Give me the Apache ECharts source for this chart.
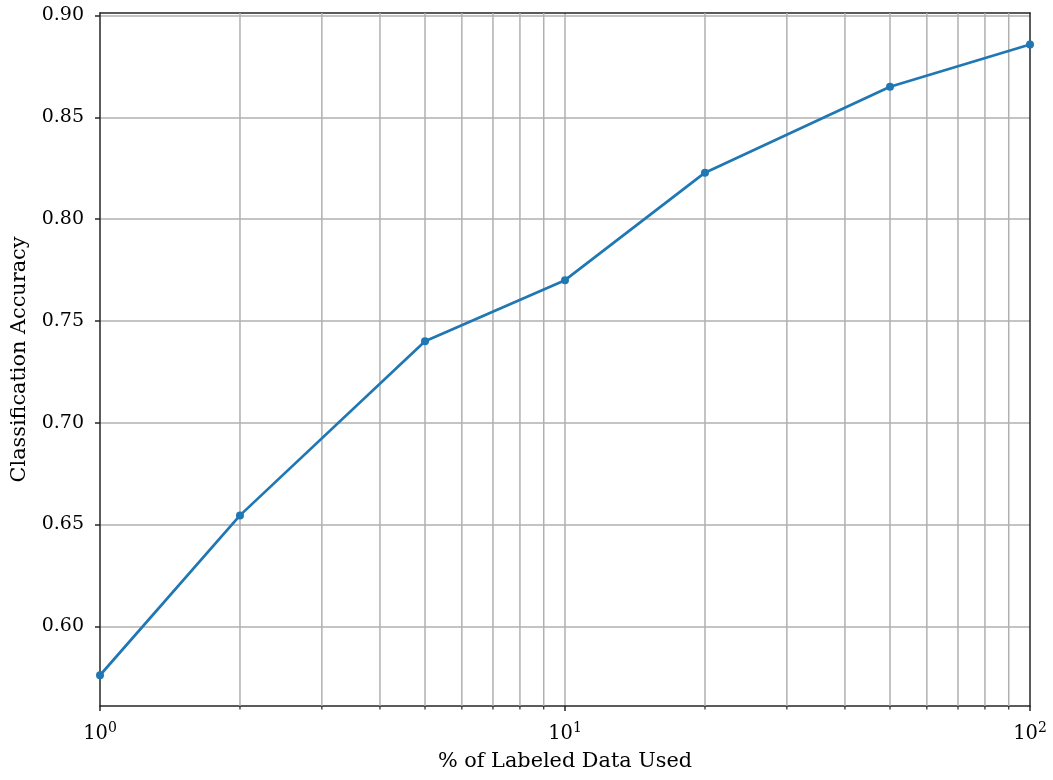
<!DOCTYPE html>
<html>
<head>
<meta charset="utf-8">
<script src="https://cdn.jsdelivr.net/npm/echarts@6/dist/echarts.min.js"></script>
<style>html,body{margin:0;padding:0;background:#fff}#c{width:1053px;height:780px}</style>
</head>
<body>
<div id="c"></div>
<script>
const labeledPct = [1, 2, 5, 10, 20, 50, 100];
const accuracy = [0.576, 0.6545, 0.740, 0.770, 0.8228, 0.865, 0.8857];
const minorTicks = [2, 3, 4, 5, 6, 7, 8, 9, 20, 30, 40, 50, 60, 70, 80, 90];
const xTitle = '% of Labeled Data Used';
const yTitle = 'Classification Accuracy';

const FONT = 'DejaVu Serif';
const chart = echarts.init(document.getElementById('c'), null, {renderer: 'canvas'});

chart.setOption({
  animation: false,
  backgroundColor: '#ffffff',
  grid: {left: 100, right: 23, top: 13, bottom: 74, show: false},
  xAxis: [{
    type: 'log', logBase: 10, min: 1, max: 100,
    name: xTitle, nameLocation: 'middle', nameGap: 45,
    nameTextStyle: {fontFamily: FONT, fontSize: 20.8, color: '#000'},
    axisLine: {show: true, lineStyle: {color: '#262626', width: 1.5}},
    axisTick: {show: true, inside: false, length: 5, lineStyle: {color: '#262626', width: 1.5}},
    minorTick: {show: false},
    splitLine: {show: true, showMinLine: false, showMaxLine: false, lineStyle: {color: '#b0b0b0', width: 1.5}},
    axisLabel: {
      margin: 15, color: '#000',
      formatter: function (v) {
        const e = Math.round(Math.log10(v));
        return '{b|10}{s|' + e + '}';
      },
      rich: {
        b: {fontFamily: FONT, fontSize: 19.5, color: '#000'},
        s: {fontFamily: FONT, fontSize: 14, color: '#000', verticalAlign: 'bottom', padding: [0, 0, 11, 0]}
      }
    }
  }, {
    type: 'log', logBase: 10, min: 1, max: 100, position: 'top',
    axisLine: {show: true, lineStyle: {color: '#262626', width: 1.5}},
    axisTick: {show: false}, axisLabel: {show: false}, splitLine: {show: false}
  }],
  yAxis: [{
    type: 'value', min: 0.5609, max: 0.9012, splitNumber: 7,
    name: yTitle, nameLocation: 'middle', nameGap: 70,
    nameTextStyle: {fontFamily: FONT, fontSize: 20.8, color: '#000'},
    axisLine: {show: true, lineStyle: {color: '#262626', width: 1.5}},
    axisTick: {show: true, length: 5, lineStyle: {color: '#262626', width: 1.5}},
    splitLine: {show: true, showMinLine: false, showMaxLine: false, lineStyle: {color: '#b0b0b0', width: 1.5}},
    axisLabel: {
      margin: 16, fontFamily: FONT, fontSize: 19, color: '#000',
      showMinLabel: false, showMaxLabel: false,
      formatter: function (v) { return v.toFixed(2); }
    }
  }, {
    type: 'value', min: 0.5609, max: 0.9012, position: 'right',
    axisLine: {show: true, lineStyle: {color: '#262626', width: 1.5}},
    axisTick: {show: false}, axisLabel: {show: false}, splitLine: {show: false}
  }],
  series: [
    {
      type: 'custom',
      z: 1,
      silent: true,
      clip: false,
      data: minorTicks.map(v => [v, 0.7]),
      renderItem: function (params, api) {
        const x = api.coord([api.value(0), api.value(1)])[0];
        const cs = params.coordSys;
        const top = cs.y, bottom = cs.y + cs.height;
        return {
          type: 'group',
          children: [
            {type: 'line', shape: {x1: x, y1: top, x2: x, y2: bottom}, style: {stroke: '#b0b0b0', lineWidth: 1.5}},
            {type: 'line', shape: {x1: x, y1: bottom, x2: x, y2: bottom + 3.5}, style: {stroke: '#262626', lineWidth: 1.2}}
          ]
        };
      }
    },
    {
      type: 'line',
      z: 3,
      data: labeledPct.map((x, i) => [x, accuracy[i]]),
      symbol: 'circle', symbolSize: 8,
      itemStyle: {color: '#1f77b4'},
      lineStyle: {color: '#1f77b4', width: 2.7},
      clip: true
    }
  ]
});
</script>
</body>
</html>
